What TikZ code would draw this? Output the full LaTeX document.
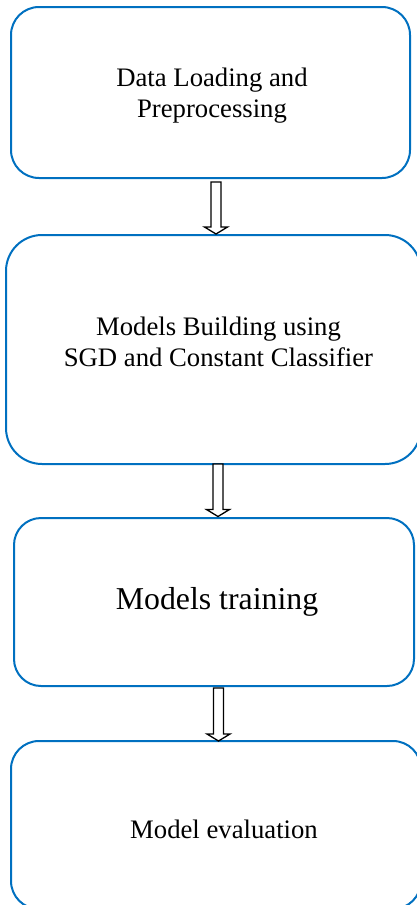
\documentclass[tikz,border=0pt]{standalone}
\usepackage{fontspec}
\setmainfont{Liberation Serif}
\usetikzlibrary{calc}
\definecolor{boxblue}{HTML}{0070C0}
\newcommand\blkarrow[2]{%
  \draw[blk] ($(#1)+(-5,0)$) -- ($(#2)+(-5,-7)$) -- ($(#2)+(-11.5,-7)$) -- (#2)
    -- ($(#2)+(11.5,-7)$) -- ($(#2)+(5,-7)$) -- ($(#1)+(5,0)$) -- cycle;}
\begin{document}
\begin{tikzpicture}[x=1pt,y=-1pt,
  box/.style={draw=boxblue, line width=2pt, rounded corners=#1, inner sep=0pt},
  box/.default=28pt,
  lbl/.style={font=\fontsize{26.7}{31}\selectfont, align=center, inner sep=0pt},
  blk/.style={draw=black, line width=1.3pt, fill=white, line join=miter}]
\useasboundingbox (0,0) rectangle (417,905);
\clip (0,0) rectangle (417,905);
% boxes
\node[box=28pt, minimum width=399pt, minimum height=171pt] (b1) at (210.5,92.5) {};
\node[box=36pt, minimum width=415pt, minimum height=229pt] (b2) at (213.5,349.5) {};
\node[box=27pt, minimum width=400pt, minimum height=168pt] (b3) at (214,602) {};
\node[box=28pt, minimum width=410pt, minimum height=168pt] (b4) at (216,825) {};
% texts
\node[lbl] (t1) at (212,95.3) {Data Loading and\\Preprocessing};
\node[lbl] (t2) at (218.5,342) {Models Building using\\SGD and Constant Classifier};
\node[lbl, font=\fontsize{31.8}{37}\selectfont] (t3) at (217,601.4) {Models training};
\node[lbl] (t4) at (224,829) {Model evaluation};
% block arrows
\coordinate (ax1) at (216,0);
\coordinate (ax2) at (218,0);
\coordinate (ax3) at (218.5,0);
\coordinate (a1t) at ($(b1.south -| ax1)+(0,3)$);
\coordinate (a1b) at (b2.north -| ax1);
\coordinate (a2t) at ($(b2.south -| ax2)+(0,-1)$);
\coordinate (a2b) at ($(b3.north -| ax2)+(0,-0.5)$);
\coordinate (a3t) at ($(b3.south -| ax3)+(0,1)$);
\coordinate (a3b) at ($(b4.north -| ax3)+(0,1)$);
\blkarrow{a1t}{a1b}
\blkarrow{a2t}{a2b}
\blkarrow{a3t}{a3b}
\end{tikzpicture}
\end{document}
